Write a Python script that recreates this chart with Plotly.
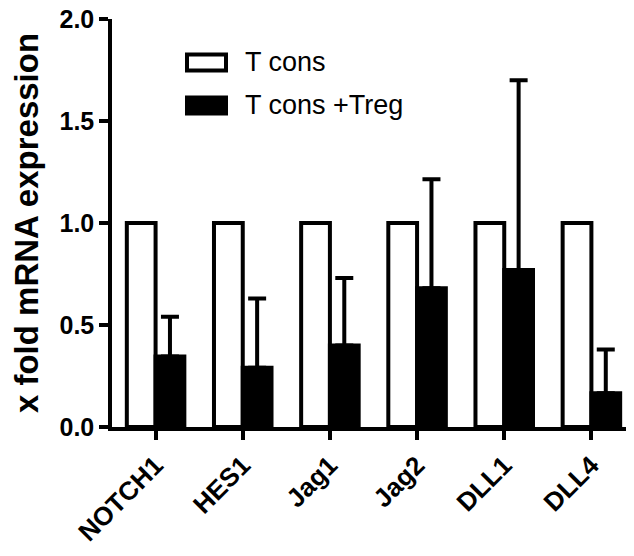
import plotly.graph_objects as go

genes = ["NOTCH1", "HES1", "Jag1", "Jag2", "DLL1", "DLL4"]
tcons = [1.0, 1.0, 1.0, 1.0, 1.0, 1.0]
tcons_treg = [0.345, 0.29, 0.40, 0.68, 0.77, 0.165]
treg_err_top = [0.54, 0.63, 0.73, 1.215, 1.70, 0.38]
treg_err = [t - m for t, m in zip(treg_err_top, tcons_treg)]
yticks = [0.0, 0.5, 1.0, 1.5, 2.0]
ytick_labels = ["0.0", "0.5", "1.0", "1.5", "2.0"]

FONT = "Liberation Sans, Arial, sans-serif"

fig = go.Figure()
fig.add_trace(go.Bar(
    x=genes, y=tcons, name="T cons",
    marker=dict(color="white", line=dict(color="black", width=4)),
    showlegend=False,
))
fig.add_trace(go.Bar(
    x=genes, y=tcons_treg, name="T cons +Treg",
    marker=dict(color="black", line=dict(color="black", width=4)),
    error_y=dict(type="data", symmetric=False, array=treg_err,
                 arrayminus=[0] * len(treg_err),
                 color="black", thickness=4, width=9),
    showlegend=False,
))

# page body has an 8px margin; work in figure coords (page - 8)
OFF = 8
W, H = 634 - OFF, 556 - OFF
L, R, T, B = 112 - OFF, 0, 18.5 - OFF, H - (427 - OFF)
pw, ph = W - L - R, H - T - B

def px(x):
    return (x - OFF - L) / pw

def py(y):
    return (H - B - (y - OFF)) / ph

shapes = [
    dict(type="rect", xref="paper", yref="paper",
         x0=px(187), x1=px(226), y0=py(70), y1=py(54),
         fillcolor="white", line=dict(color="black", width=4)),
    dict(type="rect", xref="paper", yref="paper",
         x0=px(187), x1=px(226), y0=py(113), y1=py(97),
         fillcolor="black", line=dict(color="black", width=4)),
]
annotations = [
    dict(xref="paper", yref="paper", x=px(243), y=py(62), text="T cons",
         showarrow=False, xanchor="left", yanchor="middle",
         font=dict(family=FONT, size=27, color="black")),
    dict(xref="paper", yref="paper", x=px(243), y=py(105), text="T cons +Treg",
         showarrow=False, xanchor="left", yanchor="middle",
         font=dict(family=FONT, size=27, color="black")),
]

fig.update_layout(
    width=W, height=H,
    margin=dict(l=L, r=R, t=T, b=B),
    paper_bgcolor="white", plot_bgcolor="white",
    barmode="group", bargap=0.34, bargroupgap=0,
    shapes=shapes, annotations=annotations,
    font=dict(family=FONT, color="black"),
)
fig.update_xaxes(
    range=[-0.5, -0.5 + (pw + OFF) / 88.5],
    automargin=False,
    showline=True, linecolor="black", linewidth=3.5,
    ticks="outside", ticklen=9, tickwidth=3.5, tickcolor="black",
    tickangle=-45, ticklabeloverflow="allow",
    tickfont=dict(family=FONT, size=26, color="black", weight="bold"),
    showgrid=False, zeroline=False,
)
fig.update_yaxes(
    range=[0, 2.0],
    automargin=False,
    tickvals=yticks, ticktext=ytick_labels,
    ticklabeloverflow="allow",
    showline=True, linecolor="black", linewidth=3.5,
    ticks="outside", ticklen=9, tickwidth=3.5, tickcolor="black",
    tickfont=dict(family=FONT, size=25, color="black", weight="bold"),
    showgrid=False, zeroline=False,
    title=dict(text="x fold mRNA expression", standoff=12,
               font=dict(family=FONT, size=33, color="black", weight="bold")),
)

fig.write_html("out.html")
